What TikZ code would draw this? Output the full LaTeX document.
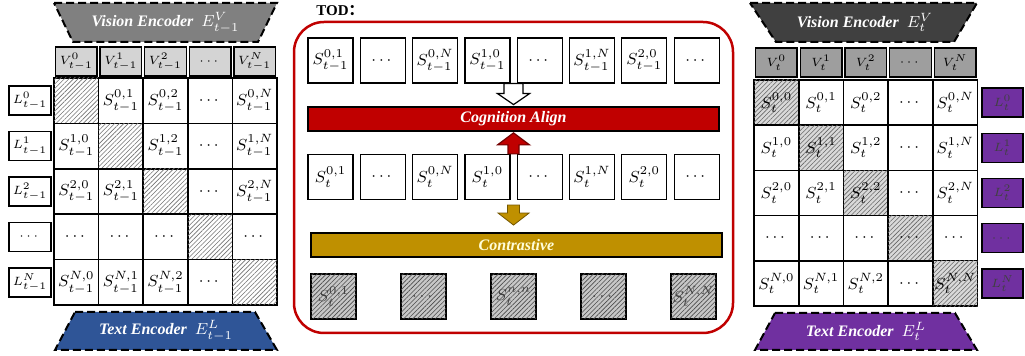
\documentclass[tikz,border=0pt]{standalone}
\usepackage{amsmath}
\usepackage{amssymb}
\usepackage{fontspec}
\setmainfont{Liberation Serif}
\newfontfamily\cjk{Noto Sans CJK SC}
\usetikzlibrary{patterns.meta,calc}

\definecolor{todred}{HTML}{C00000}
\definecolor{todgold}{HTML}{BF9000}
\definecolor{encblue}{HTML}{2F5597}
\definecolor{encpurple}{HTML}{7030A0}

\tikzset{
	cell/.style={draw,line width=0.75pt,minimum width=22.3pt,minimum height=22.7pt,inner sep=0pt,font=\fontsize{8}{9}\selectfont},
	hatchcell/.style={cell,fill=white,postaction={pattern color=black!55,pattern={Lines[angle=45,distance=1.6pt,line width=0.3pt]}}},
	hatchgray/.style={cell,fill=black!15,postaction={pattern color=black!60,pattern={Lines[angle=45,distance=1.6pt,line width=0.3pt]}}},
	vhead/.style={draw,line width=0.75pt,minimum width=20.8pt,minimum height=14.5pt,inner sep=0pt,font=\fontsize{6}{7}\selectfont},
	lab/.style={draw,line width=0.75pt,minimum width=20.8pt,minimum height=14.5pt,inner sep=0pt,font=\fontsize{6.5}{7}\selectfont},
	sbox/.style={draw,line width=0.6pt,minimum size=22.5pt,inner sep=0pt,font=\fontsize{8}{9}\selectfont},
	sboxhatch/.style={sbox,fill=black!22,text=black!75,postaction={pattern color=black!70,pattern={Lines[angle=45,distance=1.6pt,line width=0.3pt]}}},
	enc/.style={draw,dashed,dash pattern=on 4pt off 2pt,line width=1pt},
	enctext/.style={text=white,font=\fontsize{8}{9}\selectfont\bfseries\itshape},
	bar/.style={draw,line width=0.75pt,minimum width=205.5pt,minimum height=12pt,inner sep=0pt,font=\fontsize{8}{9}\selectfont\bfseries\itshape}
}

\begin{document}
\begin{tikzpicture}[x=0.5pt,y=-0.5pt]
		\useasboundingbox (0,0) rectangle (1025,356);
		% left: previous frame
		\draw[enc,fill=black!50] (54,3) -- (277,3) -- (258,42) -- (73,42) -- cycle;
		\draw (165.5,22.5) node (vencp) [enctext] {Vision Encoder\ \ $E^{V}_{t-1}$};
		\foreach \lab [count=\c from 0] in {{$V^{0}_{t-1}$},{$V^{1}_{t-1}$},{$V^{2}_{t-1}$},{$\cdots$},{$V^{N}_{t-1}$}}
			\draw ({76.3+44.6*\c},61.5) node (vp\c) [vhead,fill=black!17] {\lab};
		\foreach \lab [count=\r from 0] in {{$L^{0}_{t-1}$},{$L^{1}_{t-1}$},{$L^{2}_{t-1}$},{$\cdots$},{$L^{N}_{t-1}$}}
			\draw (30,{100.7+45.4*\r}) node (lp\r) [lab,fill=white] {\lab};
		\foreach \st/\lab [count=\c from 0] in {hatchcell/{},cell/{$S^{0,1}_{t-1}$},cell/{$S^{0,2}_{t-1}$},cell/{$\cdots$},cell/{$S^{0,N}_{t-1}$}}
			\draw ({76.3+44.6*\c},100.7) node (p0\c) [\st] {\lab};
		\foreach \st/\lab [count=\c from 0] in {cell/{$S^{1,0}_{t-1}$},hatchcell/{},cell/{$S^{1,2}_{t-1}$},cell/{$\cdots$},cell/{$S^{1,N}_{t-1}$}}
			\draw ({76.3+44.6*\c},146.1) node (p1\c) [\st] {\lab};
		\foreach \st/\lab [count=\c from 0] in {cell/{$S^{2,0}_{t-1}$},cell/{$S^{2,1}_{t-1}$},hatchcell/{},cell/{$\cdots$},cell/{$S^{2,N}_{t-1}$}}
			\draw ({76.3+44.6*\c},191.5) node (p2\c) [\st] {\lab};
		\foreach \st/\lab [count=\c from 0] in {cell/{$\cdots$},cell/{$\cdots$},cell/{$\cdots$},hatchcell/{},cell/{$\cdots$}}
			\draw ({76.3+44.6*\c},236.9) node (p3\c) [\st] {\lab};
		\foreach \st/\lab [count=\c from 0] in {cell/{$S^{N,0}_{t-1}$},cell/{$S^{N,1}_{t-1}$},cell/{$S^{N,2}_{t-1}$},cell/{$\cdots$},hatchcell/{}}
			\draw ({76.3+44.6*\c},282.3) node (p4\c) [\st] {\lab};
		\draw[enc,fill=encblue] (75,312) -- (255,312) -- (277,350) -- (55,350) -- cycle;
		\draw (166,331) node (tencp) [enctext] {Text Encoder\ \ $E^{L}_{t-1}$};

		% middle: TOD
		\draw (316,11) node (todlab) [anchor=west,inner sep=0pt,font=\fontsize{7.5}{8}\selectfont\bfseries] {TOD{\cjk ：}};
		\draw[todred,line width=1.25pt,rounded corners=15pt] (294,22) rectangle (733,333);
		\foreach \lab [count=\i] in {{$S^{0,1}_{t-1}$},{$\cdots$},{$S^{0,N}_{t-1}$},{$S^{1,0}_{t-1}$},{$\cdots$},{$S^{1,N}_{t-1}$},{$S^{2,0}_{t-1}$},{$\cdots$}}
			\draw ({330.5+52.3*(\i-1)},60.5) node (t\i) [sbox] {\lab};
		\foreach \lab [count=\i] in {{$S^{0,1}_{t}$},{$\cdots$},{$S^{0,N}_{t}$},{$S^{1,0}_{t}$},{$\cdots$},{$S^{1,N}_{t}$},{$S^{2,0}_{t}$},{$\cdots$}}
			\draw ({330.5+52.3*(\i-1)},177) node (m\i) [sbox] {\lab};
		\draw (513.5,119) node (align) [bar,fill=todred,text=white] {Cognition Align};
		\draw (516.5,245) node (contr) [bar,fill=todgold,text=yellow!15] {Contrastive};
		\foreach \lab [count=\i from 0] in {{$S^{0,1}_{t}$},{$\cdots$},{$S^{n,n}_{t}$},{$\cdots$},{$S^{N,N}_{t}$}}
			\draw ({333.5+90*\i},296.5) node (b\i) [sboxhatch] {\lab};
		\coordinate (wa) at ($(t4.south east)!0.5!(t5.south west)$);
		\coordinate (ra) at ($(m4.north east)!0.5!(m5.north west)$);
		\coordinate (ga) at ($(m4.south east)!0.5!(m5.south west)$);
		\draw[line width=0.6pt,fill=white] (wa) ++(-9.5,0) -- ++(19,0) -- ++(0,10) -- ++(6.5,0) -- ++(-16,11) -- ++(-16,-11) -- ++(6.5,0) -- cycle;
		\draw[line width=0.6pt,draw=todred!60!black,fill=todred] (ra) ++(-5.5,0) -- ++(0,-9) -- ++(-10.5,0) -- ++(16,-12) -- ++(16,12) -- ++(-10.5,0) -- ++(0,9) -- cycle;
		\draw[line width=0.4pt,draw=todgold!60!black,fill=todgold] (ga) ++(-6,5) -- ++(12,0) -- ++(0,8) -- ++(9.5,0) -- ++(-15.5,12) -- ++(-15.5,-12) -- ++(9.5,0) -- cycle;

		% right: current frame
		\draw[enc,fill=black!75] (750,3) -- (977,3) -- (954,42) -- (776,42) -- cycle;
		\draw (865,22.5) node (vencc) [enctext] {Vision Encoder\ \ $E^{V}_{t}$};
		\foreach \lab [count=\c from 0] in {{$V^{0}_{t}$},{$V^{1}_{t}$},{$V^{2}_{t}$},{$\cdots$},{$V^{N}_{t}$}}
			\draw ({776.4+44.7*\c},62.5) node (vc\c) [vhead,fill=black!38] {\lab};
		\foreach \lab [count=\r from 0] in {{$L^{0}_{t}$},{$L^{1}_{t}$},{$L^{2}_{t}$},{$\cdots$},{$L^{N}_{t}$}}
			\draw (1002.5,{102.6+45.2*\r}) node (lc\r) [lab,minimum width=20.5pt,fill=encpurple,text=black!75] {\lab};
		\foreach \st/\lab [count=\c from 0] in {hatchgray/{$S^{0,0}_{t}$},cell/{$S^{0,1}_{t}$},cell/{$S^{0,2}_{t}$},cell/{$\cdots$},cell/{$S^{0,N}_{t}$}}
			\draw ({776.4+44.7*\c},102.6) node (c0\c) [\st] {\lab};
		\foreach \st/\lab [count=\c from 0] in {cell/{$S^{1,0}_{t}$},hatchgray/{$S^{1,1}_{t}$},cell/{$S^{1,2}_{t}$},cell/{$\cdots$},cell/{$S^{1,N}_{t}$}}
			\draw ({776.4+44.7*\c},147.8) node (c1\c) [\st] {\lab};
		\foreach \st/\lab [count=\c from 0] in {cell/{$S^{2,0}_{t}$},cell/{$S^{2,1}_{t}$},hatchgray/{$S^{2,2}_{t}$},cell/{$\cdots$},cell/{$S^{2,N}_{t}$}}
			\draw ({776.4+44.7*\c},193) node (c2\c) [\st] {\lab};
		\foreach \st/\lab [count=\c from 0] in {cell/{$\cdots$},cell/{$\cdots$},cell/{$\cdots$},hatchgray/{$\cdots$},cell/{$\cdots$}}
			\draw ({776.4+44.7*\c},238.2) node (c3\c) [\st] {\lab};
		\foreach \st/\lab [count=\c from 0] in {cell/{$S^{N,0}_{t}$},cell/{$S^{N,1}_{t}$},cell/{$S^{N,2}_{t}$},cell/{$\cdots$},hatchgray/{$S^{N,N}_{t}$}}
			\draw ({776.4+44.7*\c},283.4) node (c4\c) [\st] {\lab};
		\draw[enc,fill=encpurple] (775,313) -- (955,313) -- (977,350) -- (755,350) -- cycle;
		\draw (866,331.5) node (tencc) [enctext] {Text Encoder\ \ $E^{L}_{t}$};
	\end{tikzpicture}
\end{document}
